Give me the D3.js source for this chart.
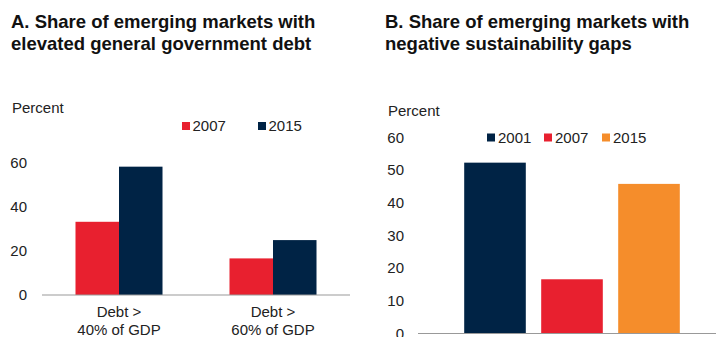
<!DOCTYPE html>
<html>
<head>
<meta charset="utf-8">
<script src="https://cdn.jsdelivr.net/npm/d3@7"></script>
<style>
  body { margin: 0; background: #fff; }
  svg { display: block; font-family: 'Liberation Sans', Arial, sans-serif; }
</style>
</head>
<body>
<svg id="chart" width="716" height="337"></svg>
<script>
// panel A data
const catsA = ['Debt >|40% of GDP', 'Debt >|60% of GDP']
const yearsA = ['2007', '2015']
const valsA2007 = [33.2, 16.6]
const valsA2015 = [58.2, 24.9]
const ticksA = [0, 20, 40, 60]

// panel B data
const yearsB = ['2001', '2007', '2015']
const valsB = [52.3, 16.6, 45.8]
const ticksB = [0, 10, 20, 30, 40, 50, 60]

const navy = '#002345'
const red = '#e8202f'
const orange = '#f58d2b'
const colorA = { '2007': red, '2015': navy }
const colorB = { '2001': navy, '2007': red, '2015': orange }
const fs = 15

const svg = d3.select('#chart')

/// titles ////////////////
function title(x, lines) {
  const t = svg.append('text')
    .attr('x', x)
    .attr('y', 28)
    .attr('font-size', 18.5)
    .attr('font-weight', 'bold')
    .attr('fill', '#111')
  lines.forEach((l, i) => {
    t.append('tspan').attr('x', x).attr('dy', i ? 22 : 0).text(l)
  })
}
title(11, ['A. Share of emerging markets with', 'elevated general government debt'])
title(385, ['B. Share of emerging markets with', 'negative sustainability gaps'])

/// panel A ////////////////
const gA = svg.append('g')
const yA = d3.scaleLinear().domain([0, 60]).range([295, 162.7])
const x0A = d3.scaleBand().domain(catsA).range([42, 350])
  .paddingInner(0.435).paddingOuter(0.2175)
const x1A = d3.scaleBand().domain(yearsA).range([0, x0A.bandwidth()])

const rowsA = catsA.map((c, i) => ({ cat: c, vals: [
  { year: '2007', v: valsA2007[i] },
  { year: '2015', v: valsA2015[i] }
] }))

gA.selectAll('g.grp')
  .data(rowsA)
  .join('g')
  .attr('class', 'grp')
  .attr('transform', d => `translate(${x0A(d.cat)},0)`)
  .selectAll('rect')
  .data(d => d.vals)
  .join('rect')
  .attr('x', d => x1A(d.year))
  .attr('width', x1A.bandwidth())
  .attr('y', d => yA(d.v))
  .attr('height', d => yA(0) - yA(d.v))
  .attr('fill', d => colorA[d.year])

const yAxisA = gA.append('g')
  .attr('transform', 'translate(27,0)')
  .call(d3.axisLeft(yA).tickValues(ticksA).tickSize(0).tickPadding(0))
yAxisA.select('.domain').remove()
yAxisA.selectAll('text').attr('font-size', fs).attr('fill', '#222')
  .attr('font-family', 'Liberation Sans, Arial, sans-serif')

gA.append('line')
  .attr('x1', 42).attr('x2', 350)
  .attr('y1', yA(0)).attr('y2', yA(0))
  .attr('stroke', '#999').attr('stroke-width', 1.2)

catsA.forEach(c => {
  const t = gA.append('text')
    .attr('text-anchor', 'middle')
    .attr('font-size', fs)
    .attr('fill', '#222')
  const cx = x0A(c) + x0A.bandwidth() / 2
  c.split('|').forEach((l, i) => {
    t.append('tspan').attr('x', cx).attr('y', 317 + i * 18).text(l)
  })
})

gA.append('text').attr('x', 12).attr('y', 113)
  .attr('font-size', fs).attr('fill', '#222').text('Percent')

// legend A
const legA = [{ year: '2007', x: 182 }, { year: '2015', x: 258 }]
legA.forEach(d => {
  gA.append('rect').attr('x', d.x).attr('y', 122).attr('width', 8).attr('height', 8)
    .attr('fill', colorA[d.year])
  gA.append('text').attr('x', d.x + 10.5).attr('y', 131)
    .attr('font-size', fs).attr('fill', '#222').text(d.year)
})

/// panel B ////////////////
const gB = svg.append('g')
const yB = d3.scaleLinear().domain([0, 60]).range([333.5, 137.5])
const xB = d3.scaleBand().domain(yearsB).range([418, 726])
  .paddingInner(0.2).paddingOuter(0.6)

gB.selectAll('rect')
  .data(yearsB.map((y, i) => ({ year: y, v: valsB[i] })))
  .join('rect')
  .attr('x', d => xB(d.year))
  .attr('width', xB.bandwidth())
  .attr('y', d => yB(d.v))
  .attr('height', d => yB(0) - yB(d.v))
  .attr('fill', d => colorB[d.year])

const yAxisB = gB.append('g')
  .attr('transform', 'translate(404,0)')
  .call(d3.axisLeft(yB).tickValues(ticksB).tickSize(0).tickPadding(0))
yAxisB.select('.domain').remove()
yAxisB.selectAll('text').attr('font-size', fs).attr('fill', '#222')
  .attr('font-family', 'Liberation Sans, Arial, sans-serif')

gB.append('line')
  .attr('x1', 418).attr('x2', 726)
  .attr('y1', yB(0)).attr('y2', yB(0))
  .attr('stroke', '#999').attr('stroke-width', 1.2)

gB.append('text').attr('x', 388).attr('y', 116)
  .attr('font-size', fs).attr('fill', '#222').text('Percent')

// legend B
const legB = [{ year: '2001', x: 487 }, { year: '2007', x: 544 }, { year: '2015', x: 602 }]
legB.forEach(d => {
  gB.append('rect').attr('x', d.x).attr('y', 133.5).attr('width', 8).attr('height', 8)
    .attr('fill', colorB[d.year])
  gB.append('text').attr('x', d.x + 11).attr('y', 142.5)
    .attr('font-size', fs).attr('fill', '#222').text(d.year)
})
</script>
</body>
</html>
